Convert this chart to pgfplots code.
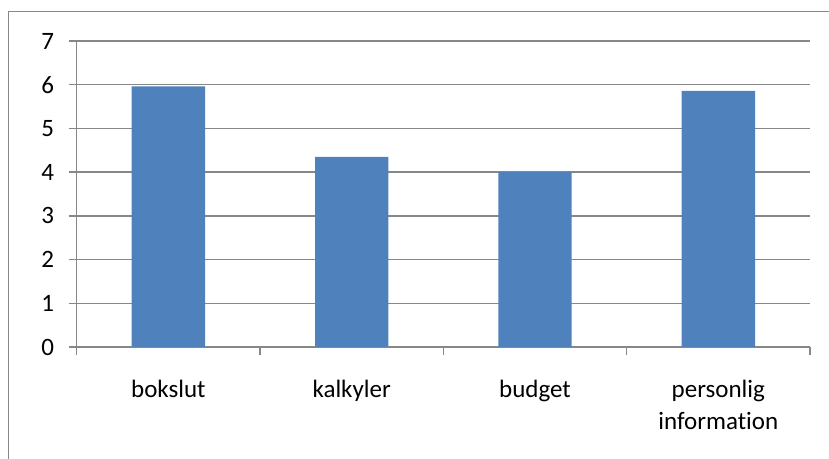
\documentclass[border=0pt]{standalone}
\usepackage{fontspec}
\setmainfont{Carlito}[Ligatures=NoCommon]
\usepackage{pgfplots}
\pgfplotsset{compat=1.18}
\definecolor{barblue}{HTML}{4F81BD}
\definecolor{gridgray}{HTML}{878787}
\begin{document}
\fontsize{25bp}{30bp}\selectfont
\begin{tikzpicture}
\useasboundingbox (0,0) rectangle (829bp,459bp);
\draw[gridgray, line width=1.3bp] (8.5bp,0) -- (8.5bp,447.3bp) -- (829bp,447.3bp);
\begin{axis}[
  at={(76.7bp,112bp)}, anchor=south west,
  scale only axis, width=733.3bp, height=306bp,
  xmin=-0.5, xmax=3.5, ymin=0, ymax=7,
  axis x line*=bottom, axis y line*=left,
  axis line style={gridgray, line width=1.3bp},
  ytick={0,1,2,3,4,5,6,7},
  xtick={-0.5,0.5,1.5,2.5,3.5},
  x tick label as interval,
  xticklabels={bokslut,kalkyler,budget,{personlig\\information}},
  xticklabel style={align=center, text width=200bp, yshift=-17bp, font=\fontsize{25bp}{32bp}\selectfont},
  yticklabel style={xshift=-6bp},
  tick align=outside,
  major tick length=8bp,
  ymajorgrids,
  grid style={gridgray, line width=1.3bp},
  major tick style={gridgray, line width=1.3bp},
  /pgf/number format/assume math mode=true,
  ticklabel style={font=\fontsize{25bp}{32bp}\selectfont},
]
\addplot[ybar, bar width=0.4, fill=barblue, draw=none] coordinates {(0,5.96) (1,4.35) (2,4.0) (3,5.86)};
\end{axis}
\end{tikzpicture}
\end{document}
